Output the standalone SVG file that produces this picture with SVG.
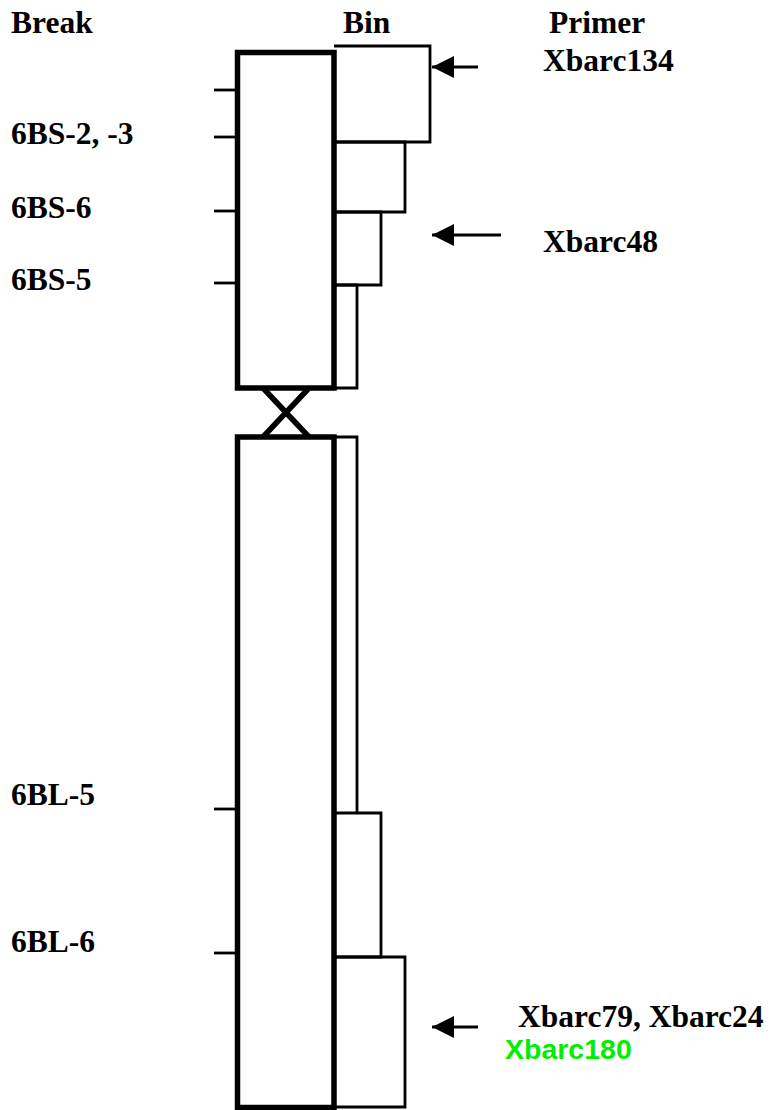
<svg xmlns="http://www.w3.org/2000/svg" width="772" height="1110" viewBox="0 0 772 1110">
<style>
.lbl{font-family:"Liberation Serif","Times New Roman",serif;font-weight:bold;font-size:31.5px;fill:#000}
.grn{font-family:"Liberation Sans",Arial,sans-serif;font-weight:bold;font-size:28.5px;fill:#00ee00}
.thick{fill:none;stroke:#000;stroke-width:5.5;stroke-linejoin:miter}
.thin{fill:none;stroke:#000;stroke-width:2.8;stroke-linejoin:miter}
.tick{stroke:#000;stroke-width:2.8}
.arr{stroke:#000;stroke-width:3}
</style>
<defs>
<marker id="ah" markerWidth="22" markerHeight="22" viewBox="0 0 22 22" refX="22" refY="11" orient="auto" markerUnits="userSpaceOnUse">
<path d="M22,11 L0,0 L0,22 Z" fill="#000"/>
</marker>
</defs>
<rect width="772" height="1110" fill="#fff"/>
<g id="headers">
<text class="lbl" x="11" y="33">Break</text>
<text class="lbl" x="343" y="33">Bin</text>
<text class="lbl" x="549" y="33">Primer</text>
</g>
<g id="chromosome">
<rect class="thick" x="237.5" y="52.5" width="96.5" height="335.5"/>
<rect class="thick" x="237.5" y="437" width="96.5" height="670.5"/>
<path class="thick" d="M263,388 L309,437 M309,388 L263,437" stroke-width="4.5"/>
</g>
<g id="ticks">
<line class="tick" x1="214" y1="90" x2="237" y2="90"/>
<line class="tick" x1="214" y1="137" x2="237" y2="137"/>
<line class="tick" x1="214" y1="211" x2="237" y2="211"/>
<line class="tick" x1="214" y1="283" x2="237" y2="283"/>
<line class="tick" x1="214" y1="809" x2="237" y2="809"/>
<line class="tick" x1="214" y1="953" x2="237" y2="953"/>
</g>
<g id="bins">
<path class="thin" d="M334,46 H430 V142 H334"/>
<path class="thin" d="M334,142 H405 V212 H334"/>
<path class="thin" d="M334,212 H381 V285 H334"/>
<path class="thin" d="M334,285 H357 V388 H334"/>
<path class="thin" d="M334,437 H357 V813"/>
<path class="thin" d="M334,813 H381 V957 H334"/>
<path class="thin" d="M334,957 H405 V1107 H334"/>
</g>
<g id="break-labels">
<text class="lbl" x="11" y="144">6BS-2, -3</text>
<text class="lbl" x="11" y="218">6BS-6</text>
<text class="lbl" x="11" y="290">6BS-5</text>
<text class="lbl" x="11" y="805">6BL-5</text>
<text class="lbl" x="11" y="952">6BL-6</text>
</g>
<g id="connectors">
<line class="arr" x1="478" y1="67" x2="432" y2="67" marker-end="url(#ah)"/>
<line class="arr" x1="501" y1="235" x2="432" y2="235" marker-end="url(#ah)"/>
<line class="arr" x1="478" y1="1027" x2="432" y2="1027" marker-end="url(#ah)"/>
</g>
<g id="primers">
<text class="lbl" x="543" y="71">Xbarc134</text>
<text class="lbl" x="543" y="252">Xbarc48</text>
<text class="lbl" x="518" y="1027">Xbarc79, Xbarc24</text>
<text class="grn" x="505" y="1059">Xbarc180</text>
</g>
</svg>
